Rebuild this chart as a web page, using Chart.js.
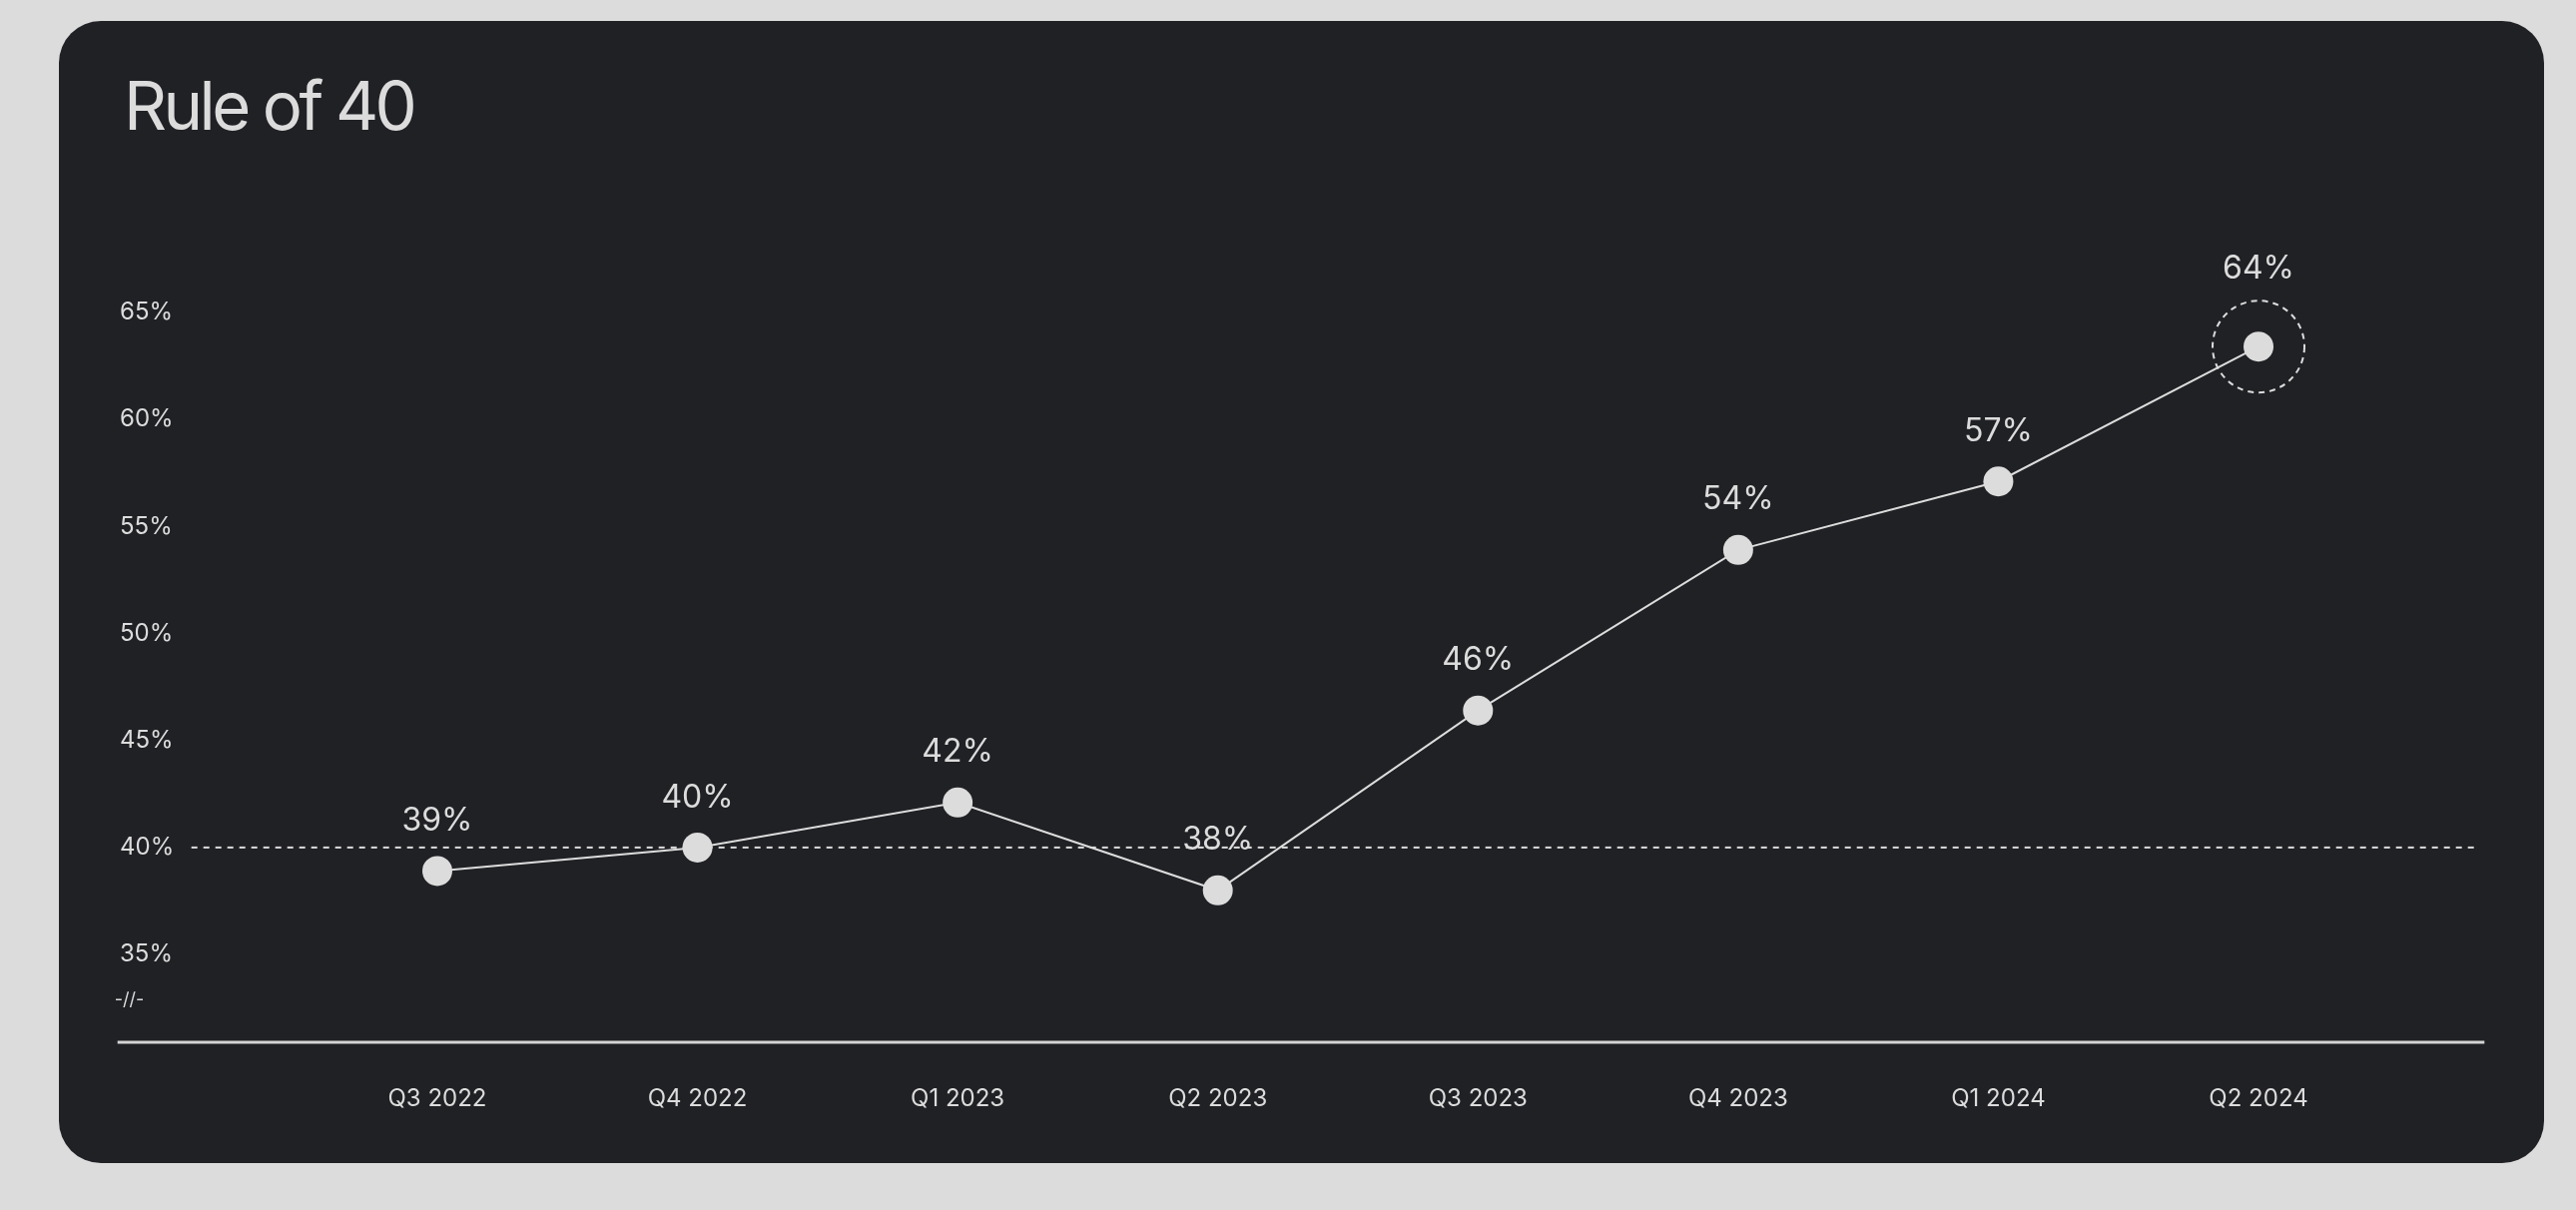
<!DOCTYPE html>
<html><head><meta charset="utf-8">
<script src="https://cdn.jsdelivr.net/npm/chart.js@4.4.1/dist/chart.umd.min.js"></script>
<style>
html,body{margin:0;padding:0;background:#dcdcdc;width:2580px;height:1212px;overflow:hidden}
#card{position:absolute;left:59px;top:21px;width:2489px;height:1144px;background:#202125;border-radius:42px;overflow:hidden}
#title{position:absolute;left:65px;top:52px;margin:0;font:400 67px/66px Inter, sans-serif;letter-spacing:-3.6px;color:#dcdcdc;z-index:2}
#wrap{position:absolute;left:0;top:0;width:2489px;height:1144px}
</style></head><body>
<div id="card"><div id="wrap"><canvas id="c" width="2489" height="1144"></canvas></div><h1 id="title">Rule of 40</h1></div>
<script>
const quarters = ['Q3 2022','Q4 2022','Q1 2023','Q2 2023','Q3 2023','Q4 2023','Q1 2024','Q2 2024'];
const ruleOf40 = [38.9, 40.0, 42.1, 38.0, 46.4, 53.9, 57.1, 63.4];
const valueLabels = ['39%','40%','42%','38%','46%','54%','57%','64%'];
const yTicks = [35, 40, 45, 50, 55, 60, 65];
const threshold = 40;
const highlightIndex = 7;

const TEXT = '#dcdcdc';

const decor = {
  id: 'decor',
  beforeDatasetsDraw(chart) {
    const {ctx, chartArea, scales: {y}} = chart;
    ctx.save();
    const ty = y.getPixelForValue(threshold);
    ctx.strokeStyle = TEXT; ctx.lineWidth = 2; ctx.setLineDash([6, 6]);
    ctx.beginPath(); ctx.moveTo(chartArea.left - 116, ty); ctx.lineTo(chartArea.right + 91, ty); ctx.stroke();
    ctx.setLineDash([]); ctx.lineWidth = 3; ctx.strokeStyle = '#d4d4d4';
    const by = chartArea.bottom;
    ctx.beginPath(); ctx.moveTo(chartArea.left - 190, by); ctx.lineTo(chartArea.right + 96, by); ctx.stroke();
    ctx.fillStyle = TEXT; ctx.font = '400 18px Inter'; ctx.textBaseline = 'middle'; ctx.textAlign = 'left';
    ctx.fillText('-//-', chartArea.left - 193, by - 42);
    ctx.restore();
  },
  afterDatasetsDraw(chart) {
    const {ctx} = chart;
    const pts = chart.getDatasetMeta(0).data;
    ctx.save();
    ctx.font = '400 32px Inter'; ctx.fillStyle = TEXT; ctx.textAlign = 'center'; ctx.textBaseline = 'middle';
    pts.forEach((p, i) => {
      const off = i === highlightIndex ? 78 : 50;
      ctx.fillText(valueLabels[i], p.x, p.y - off);
    });
    const h = pts[highlightIndex];
    ctx.setLineDash([6, 5]); ctx.lineWidth = 2; ctx.strokeStyle = TEXT;
    ctx.beginPath(); ctx.arc(h.x, h.y, 46, 0, Math.PI * 2); ctx.stroke();
    ctx.restore();
  }
};

new Chart(document.getElementById('c'), {
  type: 'line',
  data: {
    labels: quarters,
    datasets: [{
      data: ruleOf40,
      borderColor: TEXT,
      borderWidth: 2,
      backgroundColor: TEXT,
      pointBackgroundColor: TEXT,
      pointBorderWidth: 0,
      pointRadius: 15,
      pointHoverRadius: 15,
      tension: 0,
      fill: false
    }]
  },
  options: {
    responsive: false,
    animation: false,
    devicePixelRatio: 1,
    layout: {padding: {left: 61, right: 155.7, top: 249, bottom: 0}},
    plugins: {legend: {display: false}, tooltip: {enabled: false}},
    events: [],
    scales: {
      x: {
        type: 'category',
        offset: true,
        grid: {display: false, drawTicks: false},
        border: {display: false},
        ticks: {color: TEXT, font: {family: 'Inter', size: 24}, padding: 42, maxRotation: 0, autoSkip: false},
        afterFit: s => { s.height = 121; }
      },
      y: {
        min: 30.9,
        max: 67,
        grid: {display: false, drawTicks: false},
        border: {display: false},
        ticks: {color: TEXT, font: {family: 'Inter', size: 24}, crossAlign: 'far', padding: 0, callback: v => v + '%'},
        afterBuildTicks: s => { s.ticks = yTicks.map(v => ({value: v})); },
        afterFit: s => { s.width = 187.7; }
      }
    }
  },
  plugins: [decor]
});
</script>
</body></html>
